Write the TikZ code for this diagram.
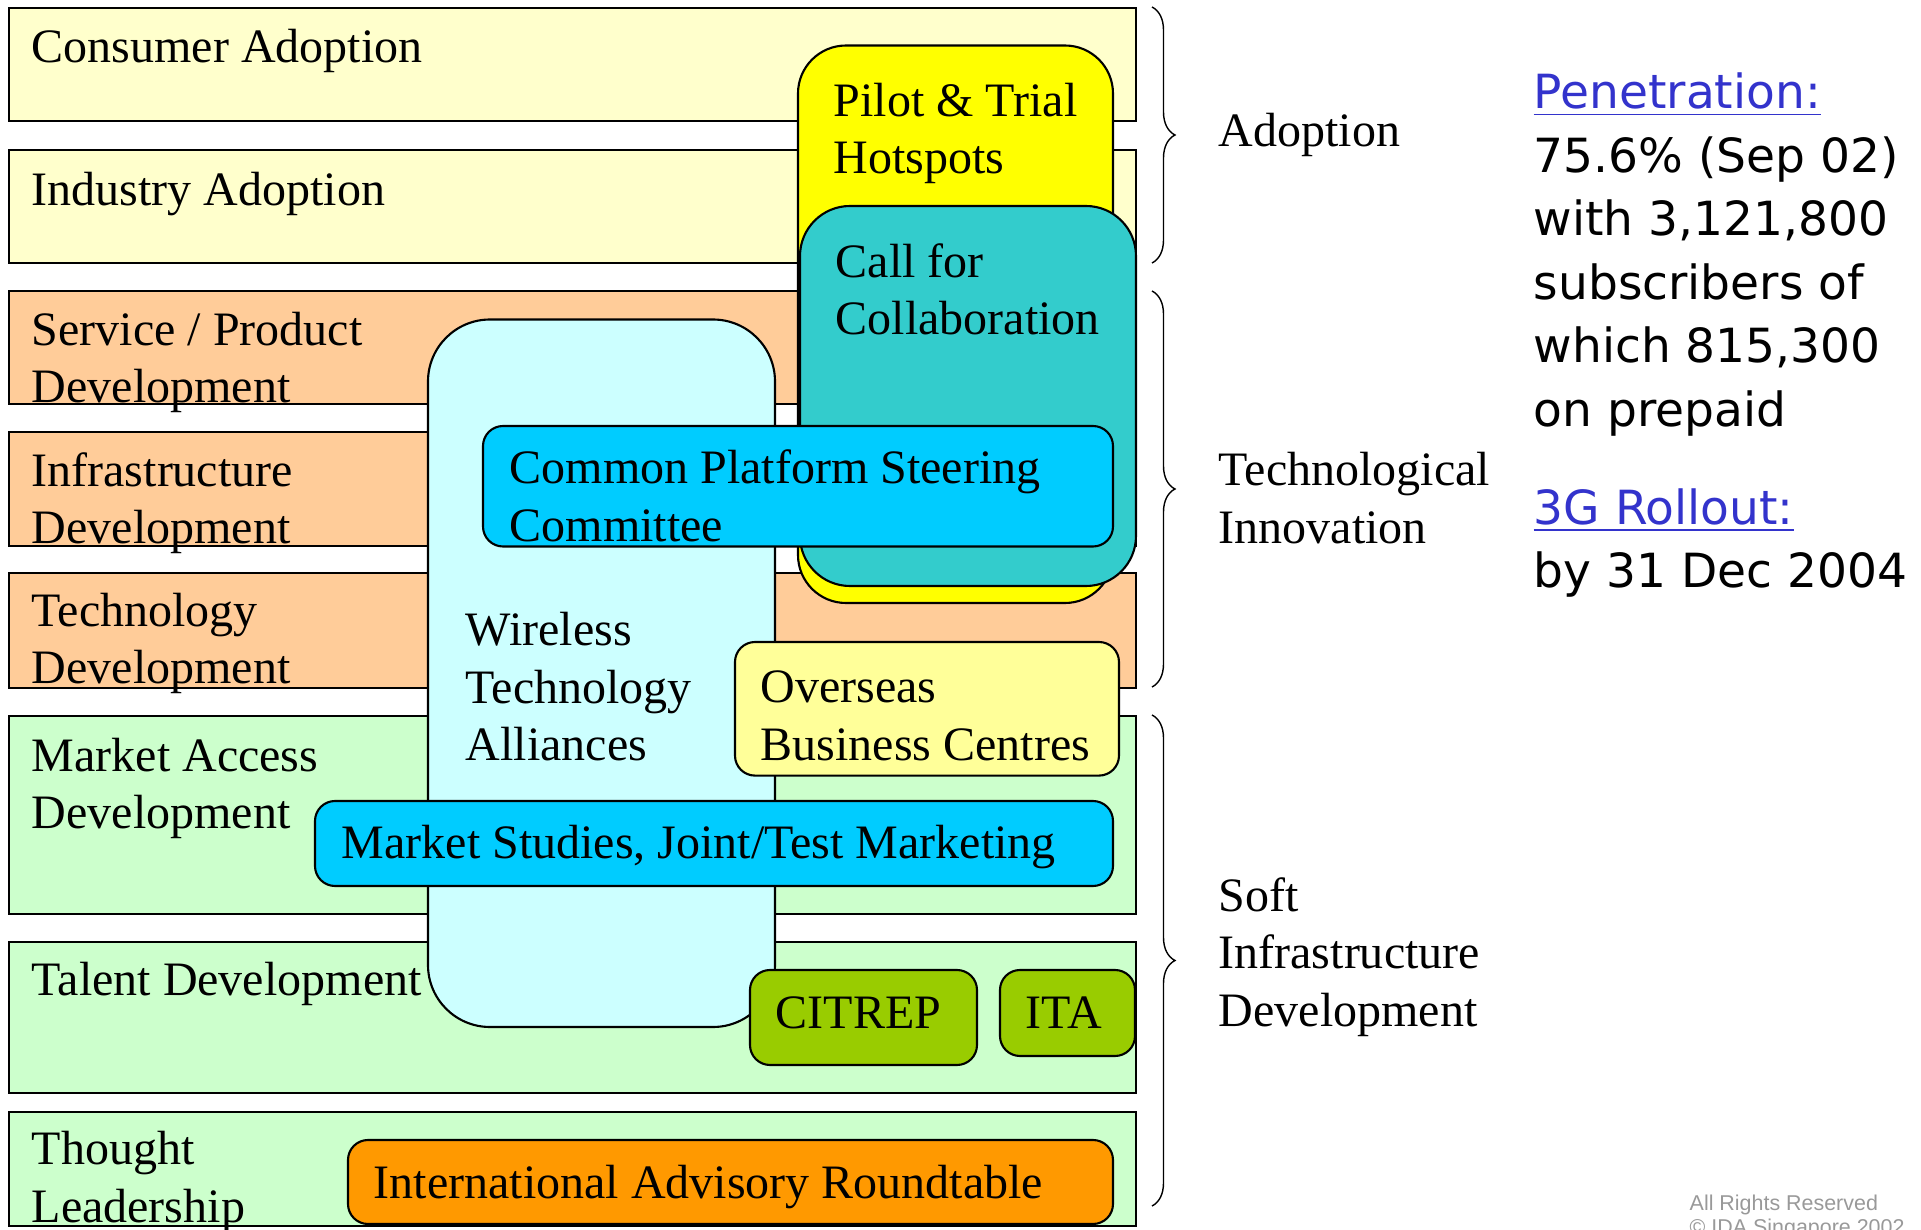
\documentclass[tikz,border=0pt]{standalone}
\usepackage{fontspec}
\setmainfont{Liberation Serif}
\newfontfamily\statfont{DejaVu Sans}
\newfontfamily\notefont{Liberation Sans}
\usetikzlibrary{decorations.pathreplacing}
\definecolor{adoptfill}{HTML}{FFFFCC}
\definecolor{techfill}{HTML}{FFCC99}
\definecolor{softfill}{HTML}{CCFFCC}
\definecolor{pilotfill}{HTML}{FFFF00}
\definecolor{callfill}{HTML}{33CCCC}
\definecolor{alliancefill}{HTML}{CCFFFF}
\definecolor{platformfill}{HTML}{00CCFF}
\definecolor{overseasfill}{HTML}{FFFF99}
\definecolor{citrepfill}{HTML}{99CC00}
\definecolor{roundtablefill}{HTML}{FF9900}
\definecolor{linkblue}{HTML}{3333CC}

\begin{document}
\begin{tikzpicture}[
	band/.style={draw=black, line width=0.6pt},
	pill/.style={draw=black, line width=0.6pt, rounded corners=0.2cm},
	lbl/.style={anchor=base west, inner sep=0pt, align=left, font=\fontsize{13.66}{16.42}\selectfont},
	grp/.style={decorate, decoration={brace, amplitude=0.23cm}, line width=0.4pt},
	stat/.style={anchor=base west, inner sep=0pt, align=left, font=\statfont\fontsize{13.4}{18.07}\selectfont}
]
	\useasboundingbox (0,0) rectangle (19.21,-12.30);

	\filldraw[band, fill=adoptfill] (0.09,-0.08) rectangle (11.36,-1.21);
	\filldraw[band, fill=adoptfill] (0.09,-1.50) rectangle (11.36,-2.63);
	\filldraw[band, fill=techfill] (0.09,-2.91) rectangle (11.36,-4.04);
	\filldraw[band, fill=techfill] (0.09,-4.32) rectangle (11.36,-5.46);
	\filldraw[band, fill=techfill] (0.09,-5.73) rectangle (11.36,-6.88);
	\filldraw[band, fill=softfill] (0.09,-7.16) rectangle (11.36,-9.14);
	\filldraw[band, fill=softfill] (0.09,-9.42) rectangle (11.36,-10.93);
	\filldraw[band, fill=softfill] (0.09,-11.12) rectangle (11.36,-12.26);

	\node[lbl] (consumer) at (0.31,-0.63) {Consumer Adoption};
	\node[lbl] (industry) at (0.31,-2.06) {Industry Adoption};
	\node[lbl] (service) at (0.31,-4.03) {Service / Product\\Development};
	\node[lbl] (infra) at (0.31,-5.44) {Infrastructure\\Development};
	\node[lbl] (techdev) at (0.31,-6.84) {Technology\\Development};
	\node[lbl] (market) at (0.31,-8.29) {Market Access\\Development};
	\node[lbl] (talent) at (0.31,-9.96) {Talent Development};
	\node[lbl] (thought) at (0.31,-12.227) {Thought\\Leadership};

	\filldraw[pill, rounded corners=0.48cm, fill=pilotfill] (7.98,-0.455) rectangle (11.13,-6.03);
	\node[lbl] (pilot) at (8.33,-1.74) {Pilot \& Trial\\Hotspots};
	\filldraw[pill, rounded corners=0.5cm, fill=callfill] (8.00,-2.06) rectangle (11.36,-5.86);
	\node[lbl] (call) at (8.35,-3.35) {Call for\\Collaboration};
	\filldraw[pill, rounded corners=0.62cm, fill=alliancefill] (4.28,-3.195) rectangle (7.75,-10.27);
	\node[lbl] (alliances) at (4.65,-7.61) {Wireless\\Technology\\Alliances};
	\filldraw[pill, fill=platformfill] (4.83,-4.26) rectangle (11.13,-5.465);
	\node[lbl] (platform) at (5.09,-5.417) {Common Platform Steering\\Committee};
	\filldraw[pill, fill=overseasfill] (7.35,-6.42) rectangle (11.19,-7.756);
	\node[lbl] (overseas) at (7.60,-7.607) {Overseas\\Business Centres};
	\filldraw[pill, fill=platformfill] (3.15,-8.01) rectangle (11.13,-8.86);
	\node[lbl] (studies) at (3.41,-8.59) {Market Studies, Joint/Test Marketing};
	\filldraw[pill, fill=citrepfill] (7.50,-9.70) rectangle (9.77,-10.65);
	\node[lbl] (citrep) at (7.75,-10.29) {CITREP};
	\filldraw[pill, fill=citrepfill] (10.00,-9.70) rectangle (11.35,-10.56);
	\node[lbl] (ita) at (10.25,-10.29) {ITA};
	\filldraw[pill, fill=roundtablefill] (3.48,-11.40) rectangle (11.13,-12.24);
	\node[lbl] (roundtable) at (3.73,-11.986) {International Advisory Roundtable};

	\coordinate (adopttop) at (11.52,-0.07);
	\coordinate (adoptbot) at (11.52,-2.63);
	\coordinate (innotop) at (11.52,-2.91);
	\coordinate (innobot) at (11.52,-6.87);
	\coordinate (softtop) at (11.52,-7.15);
	\coordinate (softbot) at (11.52,-12.06);
	\draw[grp] (adopttop) -- (adoptbot);
	\draw[grp] (innotop) -- (innobot);
	\draw[grp] (softtop) -- (softbot);
	\node[lbl] (adoption) at (12.18,-1.47) {Adoption};
	\node[lbl] (innovation) at (12.18,-5.437) {Technological\\Innovation};
	\node[lbl] (soft) at (12.18,-10.266) {Soft\\Infrastructure\\Development};

	\node[stat] (penetration) at (15.33,-4.265) {\textcolor{linkblue}{\underline{Penetration:}}\\75.6\% (Sep 02)\\with 3,121,800\\subscribers of\\which 815,300\\on prepaid};
	\node[stat] (rollout) at (15.33,-5.88) {\textcolor{linkblue}{\underline{3G Rollout:}}\\by 31 Dec 2004};
	\node[anchor=base west, inner sep=0pt, align=left, text=black!40, font=\notefont\fontsize{6.1}{6.6}\selectfont] (rights) at (16.89,-12.34) {All Rights Reserved\\© IDA Singapore 2002};
\end{tikzpicture}
\end{document}
